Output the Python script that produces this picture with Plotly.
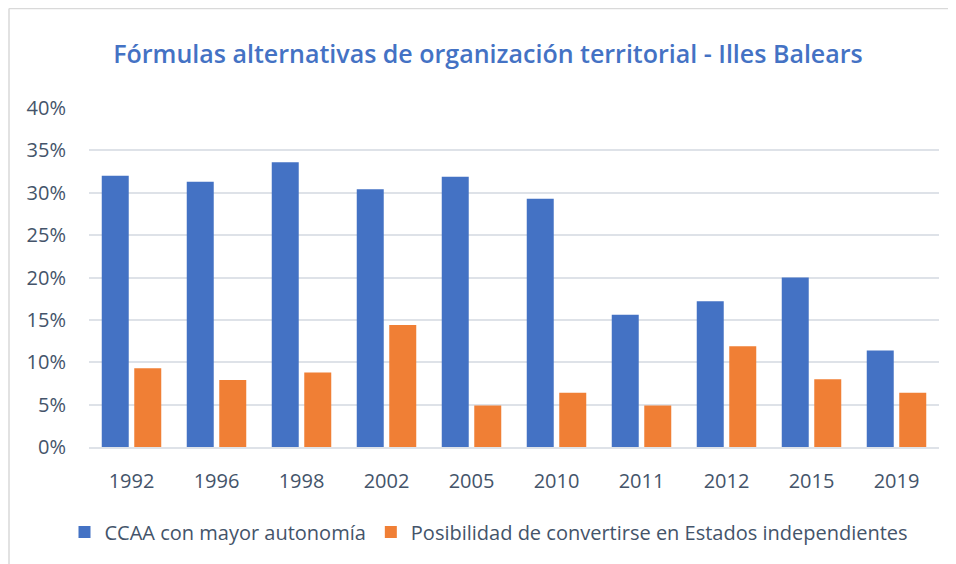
import plotly.graph_objects as go

years = ["1992", "1996", "1998", "2002", "2005", "2010", "2011", "2012", "2015", "2019"]
ccaa_mayor_autonomia = [0.320, 0.313, 0.336, 0.304, 0.319, 0.293, 0.156, 0.172, 0.200, 0.114]
estados_independientes = [0.093, 0.079, 0.088, 0.144, 0.049, 0.064, 0.049, 0.119, 0.080, 0.064]
series_names = ["CCAA con mayor autonomía", "Posibilidad de convertirse en Estados independientes"]
y_ticks = [0, 0.05, 0.10, 0.15, 0.20, 0.25, 0.30, 0.35, 0.40]
y_tick_labels = ["0%", "5%", "10%", "15%", "20%", "25%", "30%", "35%", "40%"]

FONT = "Open Sans, Noto Sans, sans-serif"
TEXT = "#44546A"

fig = go.Figure()
fig.add_trace(go.Bar(x=years, y=ccaa_mayor_autonomia, name=series_names[0],
                     marker=dict(color="#4472C4", line=dict(width=0))))
fig.add_trace(go.Bar(x=years, y=estados_independientes, name=series_names[1],
                     marker=dict(color="#F07F35", line=dict(width=0))))

# page body has an 8px offset; margins compensate so the plot lands where the reference has it
fig.update_layout(
    width=956, height=564,
    margin=dict(l=81, r=25, t=100, b=125),
    paper_bgcolor="white", plot_bgcolor="white",
    barmode="group", bargap=0.235, bargroupgap=0.17,
    title=dict(text="Fórmulas alternativas de organización territorial - Illes Balears",
               x=480 / 956, xanchor="center", y=1 - 46 / 564, yanchor="middle",
               font=dict(family=FONT, size=25, color="#4472C4", weight=600)),
    font=dict(family=FONT, color=TEXT),
    legend=dict(orientation="h", x=(489 - 89) / 850, xanchor="center",
                y=-(532 - 447) / 339, yanchor="middle",
                font=dict(family=FONT, size=20, color=TEXT),
                itemwidth=30, traceorder="normal"),
    showlegend=True,
)
fig.update_yaxes(range=[0, 0.40], tickvals=y_ticks, ticktext=y_tick_labels,
                 showgrid=True, gridcolor="#DEE2E8", gridwidth=1.5,
                 zeroline=False, showline=False,
                 tickfont=dict(family=FONT, size=20, color=TEXT),
                 ticks="", ticklabelstandoff=22)
fig.update_xaxes(showgrid=False, showline=True, linecolor="#DEE2E8", linewidth=1.5,
                 tickfont=dict(family=FONT, size=20, color=TEXT),
                 ticks="", ticklabelstandoff=15)

# outer chart border (left and top edges visible)
fig.add_shape(type="line", xref="paper", yref="paper",
              x0=(9 - 89) / 850, x1=(9 - 89) / 850, y0=(447 - 8.5) / 339, y1=-(600 - 447) / 339,
              line=dict(color="#D9D9D9", width=1.5))
fig.add_shape(type="line", xref="paper", yref="paper",
              x0=(9 - 89) / 850, x1=(1000 - 89) / 850, y0=(447 - 8.5) / 339, y1=(447 - 8.5) / 339,
              line=dict(color="#D9D9D9", width=1.5))

fig.write_html("out.html")
